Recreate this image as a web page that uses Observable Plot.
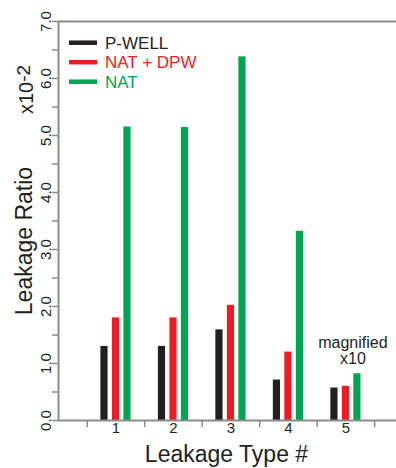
<!DOCTYPE html>
<html>
<head>
<meta charset="utf-8">
<script src="https://cdn.jsdelivr.net/npm/d3@7"></script>
<script src="https://cdn.jsdelivr.net/npm/@observablehq/plot@0.6"></script>
<style>
  html, body { margin: 0; padding: 0; background: #fff; }
  #chart { width: 396px; height: 468px; }
</style>
</head>
<body>
<div id="chart"></div>
<script>
// ---- data ----
const leakageTypes = [1, 2, 3, 4, 5];
const seriesNames = ["P-WELL", "NAT + DPW", "NAT"];
const seriesColors = ["#231f20", "#ed1c24", "#00a651"];
const pWell = [1.30, 1.30, 1.59, 0.71, 0.57];
const natDpw = [1.80, 1.80, 2.02, 1.20, 0.60];
const nat = [5.15, 5.14, 6.38, 3.32, 0.82];
const yTicks = [0, 0.5, 1, 1.5, 2, 2.5, 3, 3.5, 4, 4.5, 5, 5.5, 6, 6.5, 7];
const yTickLabels = [0, 1, 2, 3, 4, 5, 6, 7];
const xTicks = [0.5, 1.5, 2.5, 3.5, 4.5, 5.5];

const seriesValues = [pWell, natDpw, nat];
const barOffset = 0.2;   // spacing between bars within a group (x units)
const barWidth = 0.125;  // bar width (x units)

const rows = [];
seriesValues.forEach((vals, s) => {
  vals.forEach((v, i) => {
    const c = leakageTypes[i] + (s - 1) * barOffset;
    rows.push({series: seriesNames[s], x1: c - barWidth / 2, x2: c + barWidth / 2, value: v});
  });
});

const axisColor = "#8c8c8c";
const textColor = "#231f20";

const plot = Plot.plot({
  width: 396,
  height: 468,
  marginTop: 21,
  marginBottom: 48,
  marginLeft: 58,
  marginRight: 0,
  style: {fontFamily: "'Liberation Sans', Arial, Helvetica, sans-serif", color: textColor, background: "#fff"},
  x: {domain: [0, 5.88], axis: null},
  y: {domain: [0, 7], axis: null},
  color: {domain: seriesNames, range: seriesColors},
  marks: [
    Plot.rectY(rows, {x1: "x1", x2: "x2", y: "value", fill: "series"}),
    // frame lines
    Plot.ruleY([0], {stroke: axisColor, strokeWidth: 2}),
    Plot.ruleY([7], {stroke: axisColor, strokeWidth: 2}),
    Plot.ruleX([0], {stroke: axisColor, strokeWidth: 2}),
    // y ticks
    Plot.axisY({ticks: yTicks, tickSize: 6, tickFormat: () => "", stroke: axisColor, strokeWidth: 1.5}),
    // x ticks
    Plot.axisX({ticks: xTicks, tickSize: 7, tickFormat: () => "", stroke: axisColor, strokeWidth: 1.5}),
    // y tick labels (rotated)
    Plot.text(yTickLabels, {
      y: d => d, text: d => d.toFixed(1), frameAnchor: "left", dx: -8,
      rotate: -90, lineAnchor: "bottom", textAnchor: "middle", fontSize: 15, fill: textColor
    }),
    // x tick labels
    Plot.text(leakageTypes, {
      x: d => d, text: d => String(d), frameAnchor: "bottom", dy: 12.5,
      fontSize: 15, fill: textColor
    }),
    // axis titles
    Plot.text(["Leakage Ratio"], {
      frameAnchor: "left", dx: -27, dy: 20, rotate: -90, lineAnchor: "bottom",
      textAnchor: "middle", fontSize: 23, fill: textColor
    }),
    Plot.text(["Leakage Type #"], {
      frameAnchor: "bottom", dx: -1, dy: 41, lineAnchor: "bottom",
      textAnchor: "middle", fontSize: 23, fill: textColor
    }),
    // annotation above group 5
    Plot.text([{x: leakageTypes[4], y: d3.max(seriesValues, s => s[4])}], {
      x: "x", y: "y", text: () => "magnified\nx10", dx: 7, dy: -10,
      lineAnchor: "bottom", lineHeight: 1.0, fontSize: 16, fill: textColor
    })
  ]
});

const svg = d3.select(plot);

// "x10-2" multiplier label
const mult = svg.append("text")
  .attr("transform", "translate(33,114) rotate(-90)")
  .attr("font-size", 20)
  .attr("fill", textColor)
  .attr("text-anchor", "start");
mult.append("tspan").text("x10");
mult.append("tspan").attr("dy", -3).attr("font-size", 19).text("-2");

// legend
const legend = svg.append("g").attr("text-anchor", "start");
seriesNames.forEach((name, i) => {
  const y = 42.7 + i * 19.5;
  legend.append("line")
    .attr("x1", 69).attr("x2", 97).attr("y1", y).attr("y2", y)
    .attr("stroke", seriesColors[i]).attr("stroke-width", 4.5);
  legend.append("text")
    .attr("x", 105).attr("y", y + 6)
    .attr("font-size", 17)
    .attr("text-anchor", "start")
    .attr("fill", seriesColors[i])
    .text(name);
});

document.getElementById("chart").appendChild(plot);
</script>
</body>
</html>
